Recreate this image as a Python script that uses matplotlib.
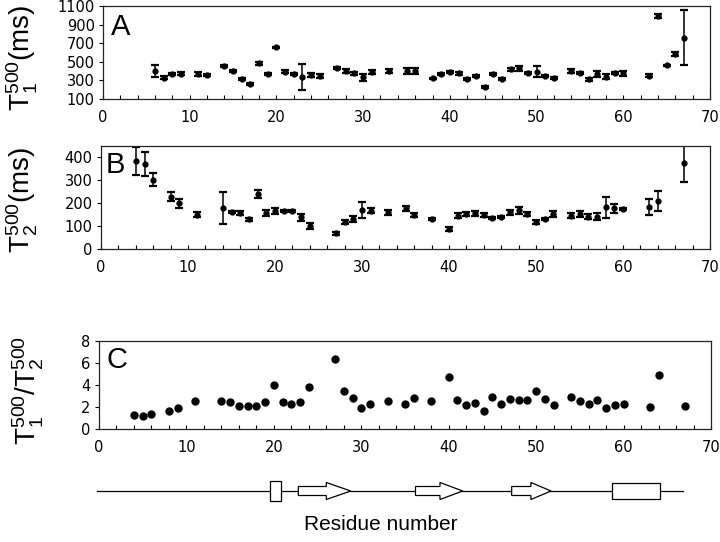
import matplotlib
matplotlib.use("Agg")
import matplotlib.pyplot as plt
from matplotlib.patches import Rectangle, Polygon
from matplotlib.ticker import MultipleLocator

plt.rcParams['mathtext.fontset'] = 'custom'
plt.rcParams['mathtext.rm'] = 'Liberation Sans'
plt.rcParams['mathtext.it'] = 'Liberation Sans:italic'
plt.rcParams['mathtext.bf'] = 'Liberation Sans:bold'

# ---------------- data ----------------
# Panel A: T1 (ms)
resA = [6, 7, 8, 9, 11, 12, 14, 15, 16, 17, 18, 19, 20, 21, 22, 23, 24, 25,
        27, 28, 29, 30, 31, 33, 35, 36, 38, 39, 40, 41, 42, 43, 44, 45, 46,
        47, 48, 49, 50, 51, 52, 54, 55, 56, 57, 58, 59, 60, 63, 64, 65, 66, 67]
t1 = [400, 330, 368, 370, 370, 357, 457, 400, 314, 261, 482, 368, 654, 393,
      368, 340, 357, 350, 429, 400, 375, 332, 393, 400, 400, 400, 322, 365,
      390, 375, 314, 346, 232, 368, 311, 418, 429, 382, 393, 346, 322, 400,
      382, 311, 368, 339, 375, 375, 350, 993, 464, 582, 757]
t1_err = [65, 20, 15, 15, 20, 10, 10, 10, 15, 15, 15, 10, 10, 15, 15, 140,
          20, 20, 10, 20, 15, 40, 20, 25, 30, 30, 5, 10, 15, 15, 10, 10, 10,
          15, 10, 15, 30, 10, 60, 10, 10, 20, 10, 15, 35, 25, 10, 30, 15, 25,
          5, 20, 295]

# Panel B: T2 (ms)
resB = [4, 5, 6, 8, 9, 11, 14, 15, 16, 17, 18, 19, 20, 21, 22, 23, 24, 27,
        28, 29, 30, 31, 33, 35, 36, 38, 40, 41, 42, 43, 44, 45, 46, 47, 48,
        49, 50, 51, 52, 54, 55, 56, 57, 58, 59, 60, 63, 64, 67]
t2 = [384, 370, 303, 229, 199, 150, 179, 163, 157, 129, 239, 157, 167, 167,
      167, 139, 100, 68, 118, 130, 172, 168, 160, 178, 149, 132, 86, 146,
      153, 156, 149, 134, 141, 160, 170, 153, 117, 132, 153, 146, 153, 141,
      141, 182, 177, 174, 182, 210, 374]
t2_err = [60, 52, 28, 18, 18, 12, 70, 5, 8, 8, 18, 12, 12, 5, 5, 15, 12, 5,
          10, 12, 35, 12, 12, 12, 10, 5, 8, 10, 10, 10, 10, 5, 5, 12, 15, 10,
          8, 5, 15, 10, 12, 10, 15, 45, 20, 5, 35, 45, 82]

# Panel C: T1/T2
resC = resB
ratio = [1.31, 1.21, 1.33, 1.67, 1.88, 2.52, 2.58, 2.46, 2.10, 2.07, 2.07,
         2.43, 4.02, 2.46, 2.31, 2.49, 3.80, 6.33, 3.43, 2.86, 1.95, 2.31,
         2.52, 2.25, 2.83, 2.58, 4.71, 2.67, 2.16, 2.34, 1.67, 2.89, 2.31,
         2.77, 2.61, 2.61, 3.50, 2.71, 2.22, 2.89, 2.55, 2.31, 2.67, 1.95,
         2.19, 2.28, 2.04, 4.90, 2.10]

# secondary structure (residue ranges)
chain = (-0.2, 66.8)
helices = [(19.6, 20.8), (58.7, 64.2)]
strands = [(22.8, 28.8), (36.2, 41.6), (47.2, 51.7)]
arrow_body_end = [26.0, 39.0, 49.4]

xticks_major = [0, 10, 20, 30, 40, 50, 60, 70]

# ---------------- layout ----------------
W, H = 720, 542
fig = plt.figure(figsize=(W / 100, H / 100), dpi=100)


def pos(l, r, t, b):
    return [l / W, 1 - b / H, (r - l) / W, (b - t) / H]


axA = fig.add_axes(pos(103, 710, 6, 99))
axB = fig.add_axes(pos(101, 710, 146, 249))
axC = fig.add_axes(pos(99, 711, 341, 429))
axS = fig.add_axes(pos(99, 711, 471, 511))

tickfont = dict(family='DejaVu Sans', size=10.5)
ebkw = dict(fmt='o', color='black', ms=3.5, elinewidth=1.1, capsize=3,
            capthick=1.6)

axA.errorbar(resA, t1, yerr=t1_err, **ebkw)
axB.errorbar(resB, t2, yerr=t2_err, **ebkw)
axC.plot(resC, ratio, 'o', color='black', ms=5)

axA.set_ylim(100, 1100)
axA.set_yticks([100, 300, 500, 700, 900, 1100])
axB.set_ylim(0, 450)
axB.set_yticks([0, 100, 200, 300, 400])
axC.set_ylim(0, 8)
axC.set_yticks([0, 2, 4, 6, 8])

for ax in (axA, axB, axC):
    ax.set_xlim(0, 70)
    ax.set_xticks(xticks_major)
    ax.xaxis.set_minor_locator(MultipleLocator(2))
    ax.tick_params(axis='x', which='both', direction='in', length=3,
                   width=0.8, pad=8)
    ax.tick_params(axis='y', which='both', direction='out', length=3,
                   width=0.8, pad=3)
    for lab in ax.get_xticklabels() + ax.get_yticklabels():
        lab.set_fontfamily(tickfont['family'])
        lab.set_fontsize(tickfont['size'])
    for sp in ax.spines.values():
        sp.set_linewidth(0.9)
        sp.set_color('#222222')

labfont = dict(family='Liberation Sans', size=20)


def ftext(x, y, s, **kw):
    fig.text(x / W, 1 - y / H, s, **kw)


ftext(22, 58, r'$\mathrm{T}_1^{500}$(ms)', rotation=90, ha='center',
      va='center', **labfont)
ftext(22, 200, r'$\mathrm{T}_2^{500}$(ms)', rotation=90, ha='center',
      va='center', **labfont)
ftext(28, 390, r'$\mathrm{T}_1^{500}$/$\mathrm{T}_2^{500}$', rotation=90,
      ha='center', va='center', **labfont)

letfont = dict(family='Liberation Sans', size=21)
ftext(111, 13, 'A', ha='left', va='top', **letfont)
ftext(106, 151, 'B', ha='left', va='top', **letfont)
ftext(106, 346, 'C', ha='left', va='top', **letfont)

# secondary structure cartoon
axS.set_xlim(0, 70)
axS.set_ylim(-20, 20)
axS.axis('off')
axS.plot(chain, [0, 0], color='black', lw=0.9, clip_on=False)
hh = [10, 8]
for (a, b), h in zip(helices, hh):
    axS.add_patch(Rectangle((a, -h), b - a, 2 * h, facecolor='white',
                            edgecolor='black', lw=0.9, zorder=3))
for (a, tip), be in zip(strands, arrow_body_end):
    bw, hw = 4.5, 8.5
    pts = [(a, -bw), (be, -bw), (be, -hw), (tip, 0), (be, hw), (be, bw),
           (a, bw)]
    axS.add_patch(Polygon(pts, closed=True, facecolor='white',
                          edgecolor='black', lw=0.9, zorder=3))

ftext(381, 524, 'Residue number', ha='center', va='center',
      family='Liberation Sans', size=15)

fig.savefig('out.png', dpi=100)
